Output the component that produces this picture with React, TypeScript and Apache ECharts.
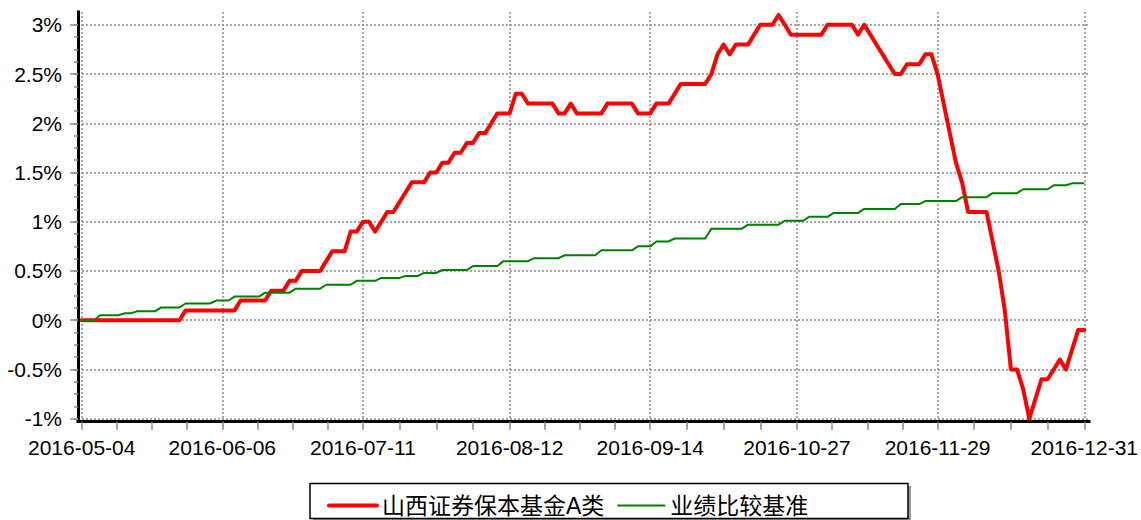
import React, { useEffect, useRef } from 'react';
import * as echarts from 'echarts';

// ---- categories (trading days) ----
const startDate = '2016-05-04';
const endDate = '2016-12-31';
const holidays = [
  '2016-06-09', '2016-06-10', '2016-09-15', '2016-09-16',
  '2016-10-03', '2016-10-04', '2016-10-05', '2016-10-06', '2016-10-07',
];
const extraDays = ['2016-12-31'];
const labelDates = [
  '2016-05-04', '2016-06-06', '2016-07-11', '2016-08-12',
  '2016-09-14', '2016-10-27', '2016-11-29', '2016-12-31',
];
const yTicks = [-1, -0.5, 0, 0.5, 1, 1.5, 2, 2.5, 3];

const fundName = '山西证券保本基金A类';
const benchName = '业绩比较基准';

// ---- series values (%) ----
const fund = [
  0, 0, 0, 0, 0, 0, 0, 0, 0, 0, 0, 0, 0, 0, 0, 0, 0,
  0.1, 0.1, 0.1, 0.1, 0.1, 0.1, 0.1, 0.1, 0.1,
  0.2, 0.2, 0.2, 0.2, 0.2,
  0.3, 0.3, 0.3,
  0.4, 0.4,
  0.5, 0.5, 0.5, 0.5,
  0.6,
  0.7, 0.7, 0.7,
  0.9, 0.9,
  1.0, 1.0,
  0.9,
  1.0,
  1.1, 1.1,
  1.2,
  1.3,
  1.4, 1.4, 1.4,
  1.5, 1.5,
  1.6, 1.6,
  1.7, 1.7,
  1.8, 1.8,
  1.9, 1.9,
  2.0,
  2.1, 2.1, 2.1,
  2.3, 2.3,
  2.2, 2.2, 2.2, 2.2, 2.2,
  2.1, 2.1,
  2.2,
  2.1, 2.1, 2.1, 2.1, 2.1,
  2.2, 2.2, 2.2, 2.2, 2.2,
  2.1, 2.1, 2.1,
  2.2, 2.2, 2.2,
  2.3,
  2.4, 2.4, 2.4, 2.4, 2.4,
  2.5,
  2.7,
  2.8,
  2.7,
  2.8, 2.8, 2.8,
  2.9,
  3.0, 3.0, 3.0,
  3.1,
  3.0,
  2.9, 2.9, 2.9, 2.9, 2.9, 2.9,
  3.0, 3.0, 3.0, 3.0, 3.0,
  2.9,
  3.0,
  2.9, 2.8, 2.7, 2.6,
  2.5, 2.5,
  2.6, 2.6, 2.6,
  2.7, 2.7,
  2.5, 2.2, 1.9, 1.6, 1.4,
  1.1, 1.1, 1.1, 1.1,
  0.8, 0.5, 0.1,
  -0.5, -0.5,
  -0.7, -1.0, -0.8,
  -0.6, -0.6,
  -0.5, -0.4, -0.5, -0.3,
  -0.1, -0.1,
];

const bench = [
  0, 0, 0,
  0.05, 0.05, 0.05, 0.05,
  0.07, 0.07,
  0.09, 0.09, 0.09, 0.09,
  0.13, 0.13, 0.13, 0.13,
  0.17, 0.17, 0.17, 0.17, 0.17,
  0.2, 0.2, 0.2,
  0.24, 0.24, 0.24, 0.24, 0.24,
  0.28, 0.28, 0.28, 0.28, 0.28,
  0.32, 0.32, 0.32, 0.32, 0.32,
  0.36, 0.36, 0.36, 0.36, 0.36,
  0.4, 0.4, 0.4, 0.4,
  0.43, 0.43, 0.43, 0.43,
  0.45, 0.45, 0.45,
  0.48, 0.48, 0.48,
  0.51, 0.51, 0.51, 0.51, 0.51,
  0.55, 0.55, 0.55, 0.55, 0.55,
  0.6, 0.6, 0.6, 0.6, 0.6,
  0.63, 0.63, 0.63, 0.63, 0.63,
  0.66, 0.66, 0.66, 0.66, 0.66, 0.66,
  0.71, 0.71, 0.71, 0.71, 0.71, 0.71,
  0.75, 0.75, 0.75,
  0.8, 0.8, 0.8,
  0.83, 0.83, 0.83, 0.83, 0.83, 0.83,
  0.93, 0.93, 0.93, 0.93, 0.93, 0.93,
  0.97, 0.97, 0.97, 0.97, 0.97, 0.97,
  1.01, 1.01, 1.01, 1.01,
  1.05, 1.05, 1.05, 1.05,
  1.09, 1.09, 1.09, 1.09, 1.09,
  1.13, 1.13, 1.13, 1.13, 1.13, 1.13,
  1.18, 1.18, 1.18, 1.18,
  1.21, 1.21, 1.21, 1.21, 1.21, 1.21,
  1.25, 1.25, 1.25, 1.25, 1.25,
  1.29, 1.29, 1.29, 1.29, 1.29,
  1.33, 1.33, 1.33, 1.33, 1.33,
  1.37, 1.37, 1.37,
  1.39, 1.39, 1.39,
];

function buildDates(): string[] {
  const out: string[] = [];
  const d = new Date(startDate + 'T00:00:00Z');
  const end = new Date(endDate + 'T00:00:00Z');
  while (d.getTime() <= end.getTime()) {
    const s = d.toISOString().slice(0, 10);
    const wd = d.getUTCDay();
    if ((wd !== 0 && wd !== 6 && holidays.indexOf(s) < 0) || extraDays.indexOf(s) >= 0) out.push(s);
    d.setUTCDate(d.getUTCDate() + 1);
  }
  return out;
}

const FONT = '"Liberation Sans", Arial, "Noto Sans CJK SC", sans-serif';

export default function App() {
  const ref = useRef<HTMLDivElement>(null);
  useEffect(() => {
    document.body.style.margin = '0';
    const dates = buildDates();
    const labelIdx = labelDates.map((d) => dates.indexOf(d));
    const xFine: number[] = [];
    for (let k = 0; k < labelIdx.length - 1; k++) {
      const a = labelIdx[k];
      const b = labelIdx[k + 1];
      for (let q = 0; q < 4; q++) xFine.push(a + ((b - a) * q) / 4);
    }
    xFine.push(labelIdx[labelIdx.length - 1]);
    const yFine: number[] = [];
    for (let k = 0; k < yTicks.length - 1; k++) {
      for (let q = 0; q < 4; q++) yFine.push(yTicks[k] + ((yTicks[k + 1] - yTicks[k]) * q) / 4);
    }
    yFine.push(yTicks[yTicks.length - 1]);

    const xMin = -0.605;
    const xMax = dates.length - 1 + 0.77;
    const yMin = -1;
    const yMax = 3.13;
    const gridLine = { color: '#8a8a8a', type: [2, 2] as any, width: 1.5 };
    const tickLine = { color: '#8a8a8a', width: 1.5 };

    const chart = echarts.init(ref.current!, null, { renderer: 'svg' });
    chart.setOption({
      animation: false,
      backgroundColor: '#fff',
      grid: { left: 78, right: 52, top: 12, bottom: 101.3, containLabel: false },
      xAxis: [
        {
          type: 'value', min: xMin, max: xMax, position: 'bottom', offset: 3,
          axisLine: { show: true, onZero: false, lineStyle: { color: '#000', width: 3, cap: 'square' } },
          axisTick: { show: false, customValues: labelIdx },
          axisLabel: {
            show: true, customValues: labelIdx, margin: 15, fontSize: 21, color: '#000', fontFamily: FONT,
            formatter: (v: number) => dates[Math.round(v)],
          },
          splitLine: { show: true, lineStyle: gridLine },
        },
        {
          type: 'value', min: xMin, max: xMax, position: 'bottom', offset: 3,
          axisLine: { show: false, onZero: false },
          axisLabel: { show: false },
          splitLine: { show: false },
          axisTick: { show: true, customValues: xFine, length: 8, lineStyle: tickLine },
        },
      ],
      yAxis: [
        {
          type: 'value', min: yMin, max: yMax, position: 'left',
          axisLine: { show: true, onZero: false, lineStyle: { color: '#000', width: 3, cap: 'square' } },
          axisTick: { show: true, customValues: yTicks, length: 8, lineStyle: tickLine },
          axisLabel: {
            show: true, customValues: yTicks, margin: 16, fontSize: 21, color: '#000', fontFamily: FONT,
            formatter: (v: number) => v + '%',
          },
          splitLine: { show: true, lineStyle: gridLine },
        },
        {
          type: 'value', min: yMin, max: yMax, position: 'left',
          axisLine: { show: false, onZero: false },
          axisLabel: { show: false },
          splitLine: { show: false },
          axisTick: { show: true, customValues: yFine, length: 4, lineStyle: tickLine },
        },
      ],
      legend: {
        left: 322, top: 489, z: 10,
        itemWidth: 48, itemHeight: 14, itemGap: 12,
        itemStyle: { opacity: 0 },
        data: [
          { name: fundName, lineStyle: { width: 4 } },
          { name: benchName, lineStyle: { width: 2 } },
        ],
        textStyle: { fontSize: 23, color: '#000', fontFamily: FONT },
      },
      graphic: [
        { type: 'rect', z: 0, shape: { x: 313, y: 486, width: 598, height: 35 }, style: { fill: '#9a9a9a' } },
        { type: 'rect', z: 1, shape: { x: 310, y: 483.5, width: 598, height: 35 }, style: { fill: '#fff', stroke: '#000', lineWidth: 1.5 } },
      ],
      series: [
        {
          type: 'line', name: fundName, xAxisIndex: 0, yAxisIndex: 0,
          data: fund.map((v, i) => [i, v]), symbol: 'none', z: 2,
          lineStyle: { color: '#ff0000', width: 4, join: 'round', cap: 'round' },
          itemStyle: { color: '#ff0000' },
        },
        {
          type: 'line', name: benchName, xAxisIndex: 0, yAxisIndex: 0,
          data: bench.map((v, i) => [i, v]), symbol: 'none', z: 3,
          lineStyle: { color: '#008000', width: 2 },
          itemStyle: { color: '#008000' },
        },
      ],
    });
    return () => chart.dispose();
  }, []);
  return <div ref={ref} style={{ width: 1141, height: 520 }} />;
}
